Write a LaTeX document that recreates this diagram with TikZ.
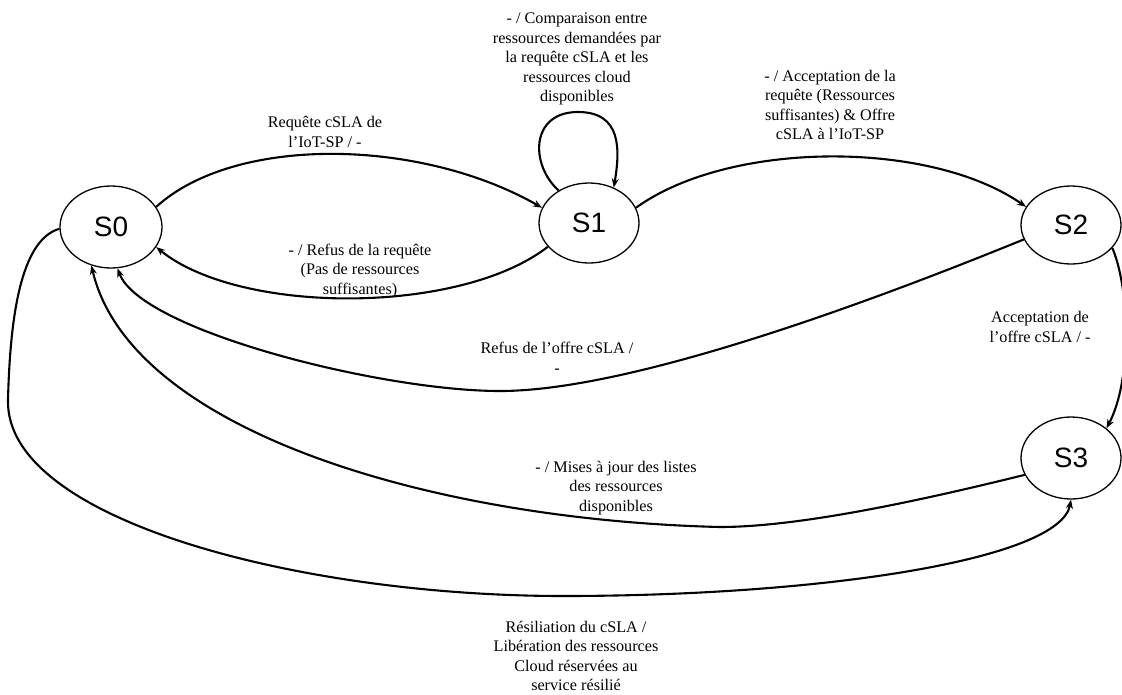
\documentclass[tikz,border=0pt]{standalone}
\usepackage{fontspec}
\setmainfont{Liberation Serif}
\newfontfamily\statefont{Liberation Sans}
\usetikzlibrary{arrows.meta,shapes.geometric}
\begin{document}
\begin{tikzpicture}[x=1pt,y=-1pt,
  state/.style={ellipse,draw,line width=1.3pt,minimum width=100pt,minimum height=80pt,
    inner sep=0pt,font=\statefont\fontsize{28}{30}\selectfont},
  trans/.style={line width=2.1pt,-{Stealth[length=9pt,width=7pt]}},
  lbl/.style={align=center,inner sep=0pt,font=\fontsize{16.2}{19.5}\selectfont}]
\useasboundingbox (0,0) rectangle (1122,694);

% states
\node[state,minimum width=102pt,minimum height=82pt] (S0) at (111,227) {S0};
\node[state] (S1) at (589,223) {S1};
\node[state,minimum height=78pt] (S2) at (1071,225) {S2};
\node[state,minimum height=82pt] (S3) at (1071,458) {S3};

% S0 -> S1 : request
\draw[trans] (S0.24) .. controls (235,135) and (420,138) .. (S1.162);
\node[lbl] (l01) at (325,132) {Requête cSLA de\\l’IoT-SP / -};

% S1 -> S0 : refusal of the request
\draw[trans] (S1.210) .. controls (460,315) and (240,315) .. (S0.-24);
\node[lbl] (l10) at (360,271) {- / Refus de la requête\\(Pas de ressources\\suffisantes)};

% S1 self loop : comparison
\draw[trans] (S1.133) .. controls (530,165) and (530,112) .. (578,112)
  .. controls (622,112) and (620,150) .. (S1.55);
\node[lbl] (l11) at (577,59) {- / Comparaison entre\\ressources demandées par\\la requête cSLA et les\\ressources cloud\\disponibles};

% S1 -> S2 : acceptance of the request
\draw[trans] (S1.18) .. controls (730,140) and (930,140) .. (S2.158);
\node[lbl] (l12) at (830,105) {- / Acceptation de la\\requête (Ressources\\suffisantes) \& Offre\\cSLA à l’IoT-SP};

% S2 -> S3 : offer accepted
\draw[trans] (S2.-29) .. controls (1130,290) and (1132,380) .. (S3.40);
\node[lbl] (l23) at (1040,327) {Acceptation de\\l’offre cSLA / -};

% S2 -> S0 : offer refused
\draw[trans] (S2.197) .. controls (902,289) and (640,391) .. (500,391)
  .. controls (380,391) and (140,330) .. (S0.-81);
\node[lbl] (l20) at (557,358) {Refus de l’offre cSLA /\\-};

% S3 -> S0 : update of resource lists
\draw[trans] (S3.200) .. controls (923,500) and (800,527) .. (720,527)
  .. controls (430,520) and (130,430) .. (S0.-117);
\node[lbl] (l30) at (616,488) {- / Mises à jour des listes\\des ressources\\disponibles};

% S0 -> S3 : termination
\draw[trans] (S0.182) .. controls (20,240) and (10,320) .. (8,400)
  .. controls (5,520) and (300,596) .. (563,596)
  .. controls (820,596) and (1060,560) .. (S3.-90);
\node[lbl] (l03) at (576,656) {Résiliation du cSLA /\\Libération des ressources\\Cloud réservées au\\service résilié};
\end{tikzpicture}
\end{document}
